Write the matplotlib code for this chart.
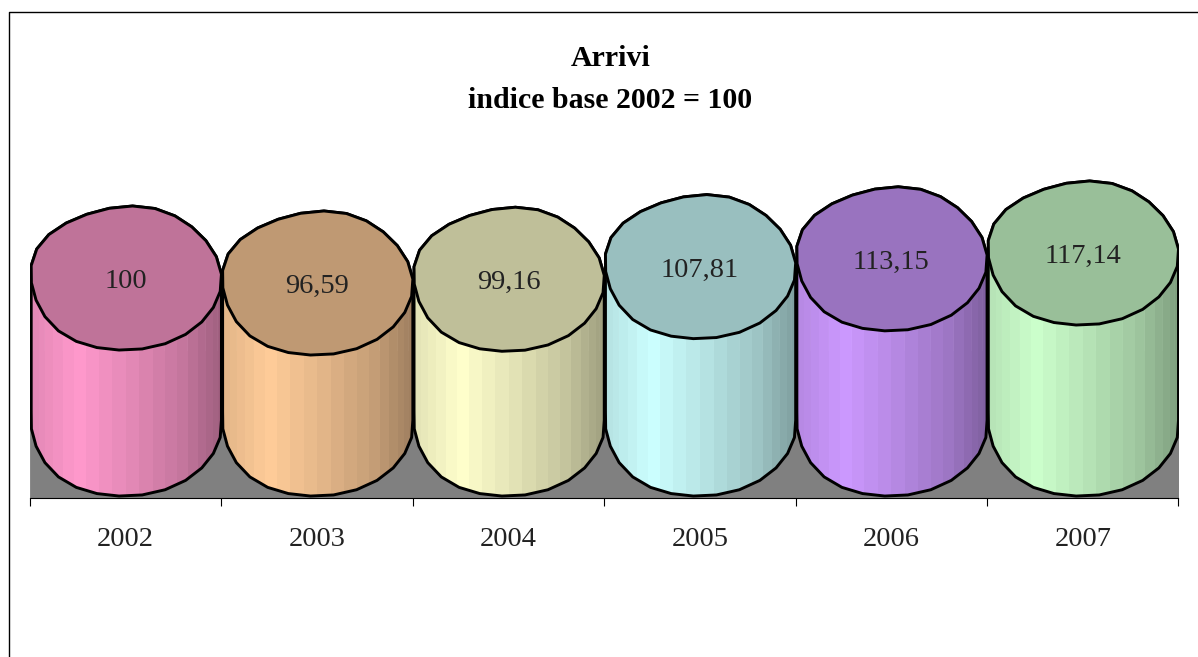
import numpy as np
import matplotlib
matplotlib.use("Agg")
import matplotlib.pyplot as plt
from matplotlib.path import Path
from matplotlib.patches import PathPatch, Rectangle

categories = ["2002", "2003", "2004", "2005", "2006", "2007"]
values = [100, 96.59, 99.16, 107.81, 113.15, 117.14]
labels = ["100", "96,59", "99,16", "107,81", "113,15", "117,14"]
side_colors = ["#FF99CC", "#FFCC99", "#FFFFCC", "#CCFFFF", "#CC99FF", "#CCFFCC"]
top_colors = ["#BF7399", "#BF9973", "#BFBF99", "#99BFBF", "#9973BF", "#99BF99"]
title_lines = ["Arrivi", "indice base 2002 = 100"]

W, H = 1198, 657
PX_PER_UNIT = 1.46
AX_L, AX_R, AX_BOTTOM = 30.0, 1178.5, 497.5
BASE_PX = 424.5
RY = 72.5 / PX_PER_UNIT
GRID_LEVEL = 51.0
SERIF = ["Liberation Serif", "DejaVu Serif"]

fig = plt.figure(figsize=(W / 100, H / 100), dpi=100, facecolor="white")
ax = fig.add_axes([AX_L / W, 1 - AX_BOTTOM / H, (AX_R - AX_L) / W, AX_BOTTOM / H])
ax.set_xlim(-0.5, 5.5)
ax.set_ylim(-(AX_BOTTOM - BASE_PX) / PX_PER_UNIT, BASE_PX / PX_PER_UNIT)
for s in ("top", "left", "right"):
    ax.spines[s].set_visible(False)
ax.spines["bottom"].set_linewidth(0.8)
ax.set_yticks([])
ax.set_xticks(np.arange(-0.5, 6.0, 1.0))
ax.set_xticklabels([])
ax.tick_params(axis="x", length=6, width=0.8, color="black")
for i, c in enumerate(categories):
    ax.annotate(c, (i, 0), xycoords=("data", "axes fraction"), xytext=(0, -30.5),
                textcoords="offset points", ha="center", va="center",
                fontsize=20.5, family=SERIF, color="#222222", annotation_clip=False)

ymin = ax.get_ylim()[0]
ax.add_patch(Rectangle((-0.5, ymin), 6, -ymin, facecolor="#808080",
                       edgecolor="#808080", linewidth=0.6, zorder=1))

RX = 0.5
N = 26
APEX_SHIFT, END_SHIFT = 0.05, 0.04


def outline():
    """unit outline: lumpy, slightly skewed ellipse, as drawn in the reference"""
    t = np.linspace(0, 2 * np.pi, N, endpoint=False) + 0.1
    r = 1 + 0.008 * np.sin(5 * t + 0.7)
    px = r * np.cos(t)
    py = r * np.sin(t)
    qx = px + APEX_SHIFT * py ** 3
    qy = py - END_SHIFT * px ** 3
    qx = qx / np.abs(qx).max()
    qy = qy / np.abs(qy).max()
    return qx, qy


UX, UY = outline()
LEFT, RIGHT = int(np.argmin(UX)), int(np.argmax(UX))


def walk(a, b):
    """indices going counter-clockwise from a to b"""
    return [(a + k) % N for k in range(((b - a) % N) + 1)]


def shade(t):
    """brightness across the cylinder, t from 0 (left) to 1 (right)"""
    return np.interp(t, [0, 0.25, 0.55, 0.8, 1.0], [0.88, 1.0, 0.88, 0.77, 0.62])


def scale(col, f):
    return tuple(min(1, v * f) for v in matplotlib.colors.to_rgb(col))


low = walk(LEFT, RIGHT)
up = walk(RIGHT, LEFT)
for i, (v, sc, tc, lab) in enumerate(zip(values, side_colors, top_colors, labels)):
    z = 10 + i * 2
    bx, by = i + RX * UX[low], RY * UY[low]
    tx, ty = i + RX * UX[up], v + RY * UY[up]
    verts = np.column_stack([np.r_[bx, tx], np.r_[by, ty]])
    verts = np.vstack([verts, verts[0]])
    sil = PathPatch(Path(verts), facecolor="none", edgecolor="black", linewidth=2.1,
                    zorder=z + 1, joinstyle="round")
    ax.add_patch(sil)
    clip = PathPatch(Path(verts), transform=ax.transData, facecolor="none", edgecolor="none")
    ax.add_patch(clip)

    # vertical shaded strips of the body
    edges = i + RX * -np.cos(np.linspace(0, np.pi, 23))
    for k in range(len(edges) - 1):
        t = ((edges[k] + edges[k + 1]) / 2 - (i - RX)) / (2 * RX)
        col = scale(sc, shade(t))
        r = ax.bar((edges[k] + edges[k + 1]) / 2, v + 2 * RY, edges[k + 1] - edges[k],
                   bottom=-RY, color=col, linewidth=0, zorder=z)[0]
        r.set_clip_path(clip)
        if k % 2 == 1:
            l1, = ax.plot([edges[k + 1]] * 2, [-RY, GRID_LEVEL], color=scale(sc, 0.74),
                          lw=0.6, zorder=z)
            l2, = ax.plot([edges[k + 1]] * 2, [GRID_LEVEL, v], color="#FFFFFF", alpha=0.6,
                          lw=0.8, zorder=z)
            l1.set_clip_path(clip)
            l2.set_clip_path(clip)

    # top ellipse
    ax.fill(i + RX * UX, v + RY * UY, facecolor=tc, edgecolor="black", linewidth=2.1,
            zorder=z + 1, joinstyle="round")
    ax.annotate(lab, (i, v), xytext=(0, -2.2), textcoords="offset points", ha="center",
                va="center", fontsize=20.5, family=SERIF, color="#222222", zorder=z + 2)

fig.text(610.5 / W, 1 - 58 / H, title_lines[0], ha="center", va="center", fontsize=21.5,
         fontweight="bold", family=SERIF, color="black")
fig.text(610 / W, 1 - 101 / H, title_lines[1], ha="center", va="center", fontsize=21.5,
         fontweight="bold", family=SERIF, color="black")

# chart frame: only the left and top edges lie inside the picture
fig.add_artist(plt.Line2D([8.8 / W, 8.8 / W, 1],
                          [0, 1 - 11.7 / H, 1 - 11.7 / H], color="black", lw=1.0))
fig.savefig("out.png", dpi=100)
